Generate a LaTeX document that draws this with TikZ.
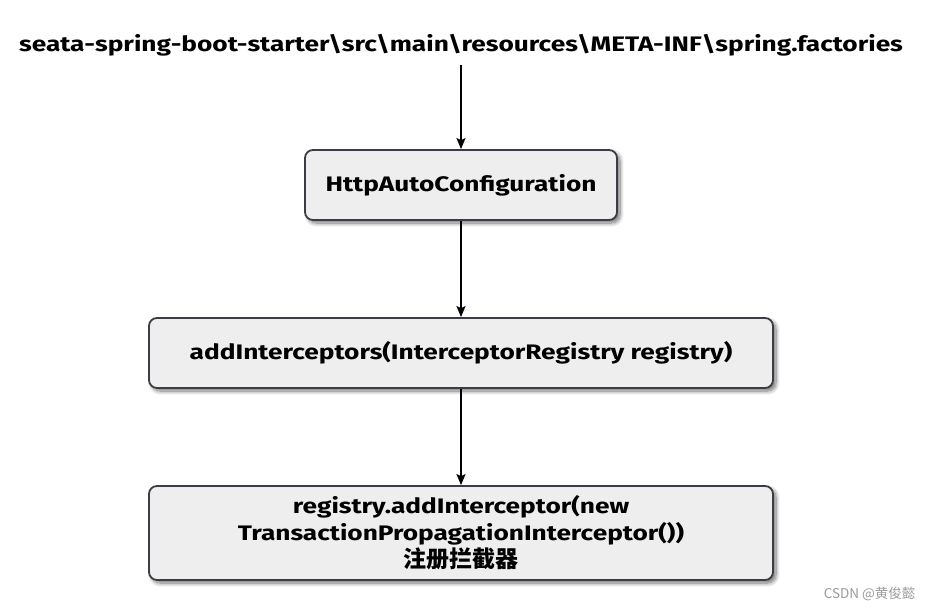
\documentclass[tikz,border=0pt]{standalone}
\usepackage{fontspec}
\setmainfont[FakeStretch=1.25]{Fira Sans}
\newfontfamily\cjk{Noto Sans CJK SC}
\usetikzlibrary{arrows.meta, positioning, shadows.blur}
\definecolor{boxfill}{HTML}{EEEEEE}
\definecolor{boxline}{HTML}{3C3C44}
\definecolor{wmgray}{HTML}{9A9A9A}

\begin{document}
\begin{tikzpicture}[x=1pt, y=-1pt,
  labeltext/.style={font=\fontsize{21}{27}\selectfont\bfseries, align=center},
  stage/.style={
    labeltext, rectangle, draw=boxline, line width=1.8pt, fill=boxfill,
    rounded corners=8pt, minimum height=70pt,
    blur shadow={shadow xshift=3pt, shadow yshift=-3pt, shadow blur steps=8,
      shadow blur radius=4pt, shadow opacity=55},
  },
  arrow/.style={-{Stealth[length=11pt, width=9pt, inset=2pt]}, line width=1.5pt, color=black},
  on grid,
]
\useasboundingbox (0,0) rectangle (933,611);
\node[labeltext, minimum height=40pt, inner sep=0pt] (factories) at (461,45)
  {seata-spring-boot-starter\textbackslash src\textbackslash main\textbackslash resources\textbackslash META-INF\textbackslash spring.factories};
\node[stage, minimum width=312pt, below=140pt of factories] (autoconf) {HttpAutoConfiguration};
\node[stage, minimum width=624pt, below=168pt of autoconf] (addint) {addInterceptors(InterceptorRegistry registry)};
\node[stage, minimum width=624pt, minimum height=94pt, below=180pt of addint] (register)
  {registry.addInterceptor(new\\TransactionPropagationInterceptor())\\{\cjk\fontsize{23}{27}\selectfont 注册拦截器}};
\draw[arrow] (factories) -- (autoconf);
\draw[arrow] (autoconf) -- (addint);
\draw[arrow] (addint) -- (register);
\node[font=\cjk\fontsize{13.5}{15}\selectfont, text=wmgray, anchor=east] (credit) at (919,594) {CSDN @黄俊懿};
\end{tikzpicture}
\end{document}
